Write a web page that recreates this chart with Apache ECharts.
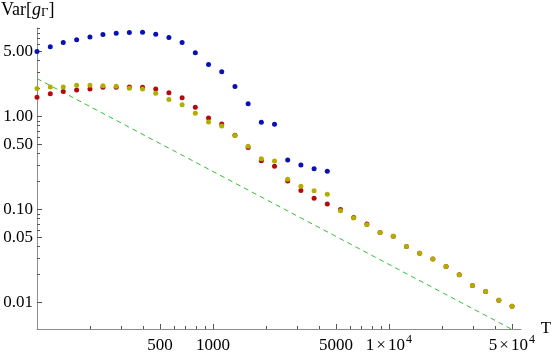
<!DOCTYPE html>
<html><head><meta charset="utf-8">
<script src="https://cdn.jsdelivr.net/npm/echarts@6/dist/echarts.min.js"></script>
<style>html,body{margin:0;padding:0;background:#fff}#c{width:554px;height:358px}</style>
</head><body><div id="c"></div>
<script>
const T = [100,119,141,168,200,237,282,335,398,473,562,668,794,944,1122,1334,1585,1884,2239,2661,3162,3758,4467,5309,6310,7499,8913,10593,12589,14962,17783,21135,25119,29854,35481,42170,50119];
const blue = [5.03,5.65,6.28,6.71,7.22,7.65,7.91,8.03,8.11,7.72,7.10,6.28,4.87,3.65,3.05,2.11,1.38,0.869,0.829,0.341,0.301,0.275,0.258];
const red = [1.62,1.76,1.86,1.93,1.99,2.07,2.07,2.09,2.07,1.99,1.81,1.60,1.26,0.966,0.834,0.631,0.466,0.335,0.292,0.203,0.160,0.1327,0.1145,0.1003,0.0823,0.0700,0.0565,0.0516,0.040,0.0339,0.0293,0.0244,0.0199,0.0152,0.0131,0.01058,0.00913];
const yellow = [2.01,2.09,2.09,2.18,2.18,2.15,2.12,2.02,1.99,1.79,1.53,1.34,1.09,0.876,0.793,0.626,0.481,0.352,0.333,0.212,0.178,0.159,0.1465,0.0971,0.0811,0.0688,0.0565,0.0516,0.040,0.0339,0.0293,0.0244,0.0199,0.0152,0.0131,0.01058,0.00913];
const refT = [100, 50119];
const refV = [2.57, 0.00513];
const xMajor = [500,1000,5000,10000,50000];
const xMinor = [200,300,400,600,700,800,900,2000,3000,4000,6000,7000,8000,9000,20000,30000,40000];
const yMajor = [0.01,0.05,0.1,0.5,1,5];
const yMinor = [0.02,0.03,0.04,0.06,0.07,0.08,0.09,0.2,0.3,0.4,0.6,0.7,0.8,0.9,2,3,4,6,7,8,9];

const FONT = 'Liberation Serif';
const X_MIN = 100, X_MAX = 56370, Y_MIN = 0.00518, Y_MAX = 9.0;
const axisCol = '#8c8c8c', tickCol = '#555';

function xfmt(v){
  const r = Math.round(v);
  if (r >= 10000) return Math.round(r/10000) + '{t|×}10{sup|4}';
  return String(r);
}
const chart = echarts.init(document.getElementById('c'), null, {renderer:'canvas'});
const pair = (ys) => ys.map((y,i)=>[T[i], y]);
chart.setOption({
  animation:false,
  backgroundColor:'#fff',
  title:{
    text:'Var[{i|g}{sub|Γ}]', left:0, top:0, padding:[0,0,0,1],
    textStyle:{fontFamily:FONT, fontSize:18, fontWeight:'normal', color:'#000', lineHeight:20,
      rich:{ i:{fontFamily:FONT, fontSize:18, fontStyle:'italic', color:'#000'},
             sub:{fontFamily:FONT, fontSize:13, color:'#000', padding:[6,0,0,0]} } }
  },
  grid:{left:37, right:24, top:28, bottom:27, containLabel:false},
  xAxis:[{
    type:'log', min:X_MIN, max:X_MAX, position:'bottom',
    name:'T', nameLocation:'end', nameGap:12,
    nameTextStyle:{fontFamily:FONT, fontSize:17, color:'#000', verticalAlign:'middle'},
    axisLine:{show:true, lineStyle:{color:axisCol, width:1}},
    axisTick:{show:true, inside:true, length:5, customValues:xMajor, lineStyle:{color:tickCol}},
    axisLabel:{customValues:xMajor, formatter:xfmt, margin:5, fontFamily:FONT, fontSize:17, color:'#000', lineHeight:24,
      rich:{ t:{fontFamily:FONT, fontSize:17, color:'#000', padding:[0,2,0,2], lineHeight:24},
             sup:{fontFamily:FONT, fontSize:12, color:'#000', lineHeight:12, padding:[0,0,12,1]} } },
    splitLine:{show:false}, minorTick:{show:false}
  },{
    type:'log', min:X_MIN, max:X_MAX, position:'bottom',
    axisLine:{show:false},
    axisTick:{show:true, inside:true, length:3, customValues:xMinor, lineStyle:{color:tickCol}},
    axisLabel:{show:false}, splitLine:{show:false}
  }],
  yAxis:[{
    type:'log', min:Y_MIN, max:Y_MAX, position:'left',
    axisLine:{show:true, lineStyle:{color:axisCol, width:1}},
    axisTick:{show:true, inside:true, length:5, customValues:yMajor, lineStyle:{color:tickCol}},
    axisLabel:{customValues:yMajor, formatter:(v)=>Number(v).toFixed(2), margin:4, fontFamily:FONT, fontSize:17, color:'#000'},
    splitLine:{show:false}, minorTick:{show:false}
  },{
    type:'log', min:Y_MIN, max:Y_MAX, position:'left',
    axisLine:{show:false},
    axisTick:{show:true, inside:true, length:3, customValues:yMinor, lineStyle:{color:tickCol}},
    axisLabel:{show:false}, splitLine:{show:false}
  }],
  series:[
    {type:'line', data:refT.map((t,i)=>[t, refV[i]]), symbol:'none', showSymbol:false, clip:true,
     lineStyle:{color:'#33c033', width:1, type:[5,4]}, z:1},
    {type:'scatter', data:pair(blue), symbolSize:5, itemStyle:{color:'#0a10b4', opacity:1}, z:2},
    {type:'scatter', data:pair(red), symbolSize:5, itemStyle:{color:'#b40a0a', opacity:1}, z:3},
    {type:'scatter', data:pair(yellow), symbolSize:5, itemStyle:{color:'#b3ad00', opacity:1}, z:4}
  ]
});
</script></body></html>
